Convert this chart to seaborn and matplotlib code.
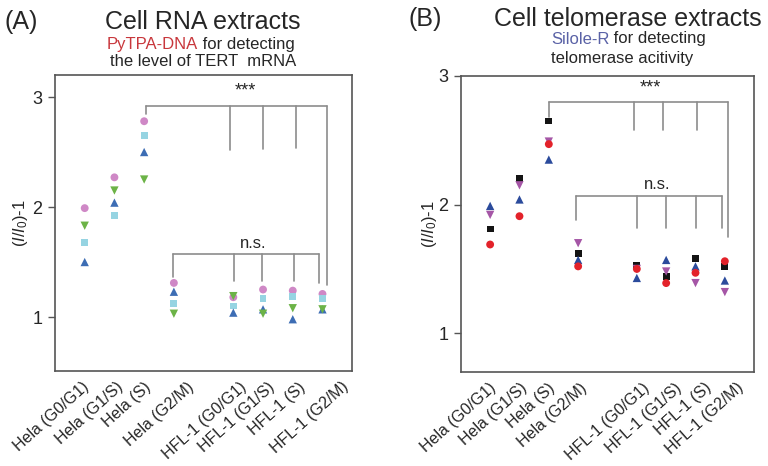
import numpy as np
import pandas as pd
import seaborn as sns
from matplotlib import pyplot as plt

groups = ["Hela (G0/G1)", "Hela (G1/S)", "Hela (S)", "Hela (G2/M)",
          "HFL-1 (G0/G1)", "HFL-1 (G1/S)", "HFL-1 (S)", "HFL-1 (G2/M)"]
positions = [0, 1, 2, 3, 5, 6, 7, 8]

# panel A: PyTPA-DNA, cell RNA extracts
rna_circle = [1.99, 2.27, 2.78, 1.31, 1.18, 1.25, 1.24, 1.21]
rna_square = [1.68, 1.92, 2.65, 1.12, 1.10, 1.17, 1.19, 1.17]
rna_up = [1.50, 2.04, 2.50, 1.23, 1.04, 1.07, 0.98, 1.07]
rna_down = [1.83, 2.15, 2.25, 1.03, 1.19, 1.03, 1.08, 1.07]

# panel B: Silole-R, cell telomerase extracts
tel_square = [1.81, 2.20, 2.65, 1.62, 1.53, 1.44, 1.58, 1.52]
tel_down = [1.92, 2.15, 2.49, 1.70, 1.50, 1.48, 1.39, 1.32]
tel_up = [1.99, 2.04, 2.35, 1.57, 1.43, 1.57, 1.52, 1.41]
tel_circle = [1.69, 1.91, 2.47, 1.52, 1.50, 1.39, 1.47, 1.56]

label_x_a = [-0.1, 1.05, 2.0, 3.45, 5.2, 6.15, 7.2, 8.65]
label_x_b = [-0.05, 1.0, 1.95, 3.05, 5.2, 6.3, 7.3, 8.4]


def makeFrame(series):
    rows = []
    for name, vals in series.items():
        for p, v in zip(positions, vals):
            rows.append({'pos': p, 'val': v, 'series': name})
    return pd.DataFrame(rows)


def drawBracket(ax, y, drops, color='#8c8c8c'):
    xs = [d[0] for d in drops]
    ax.plot([min(xs), max(xs)], [y, y], color=color, lw=1.2, zorder=1)
    for x, y_end in drops:
        ax.plot([x, x], [y, y_end], color=color, lw=1.2, zorder=1)


def drawPanel(ax, df, palette, markers, sizes, ylim, label_x):
    sns.scatterplot(data=df, x='pos', y='val', hue='series', style='series',
                    size='series', palette=palette, markers=markers, sizes=sizes,
                    linewidth=0, legend=False, ax=ax, zorder=3)
    ax.set_xlim(-1, 9)
    ax.set_ylim(*ylim)
    ax.set_yticks([1, 2, 3])
    ax.set_xticks(label_x)
    ax.set_xticklabels(groups, rotation=42, ha='right', rotation_mode='anchor',
                       fontsize=11.5)
    ax.tick_params(axis='x', length=0, pad=6)
    ax.tick_params(axis='y', left=True, length=5, width=1, labelsize=13,
                   color='#555555', pad=4)
    ax.set_xlabel('')
    ax.set_ylabel(r'($I$/$I_0$)-1', fontsize=12)
    for s in ax.spines.values():
        s.set_color('#555555')
        s.set_linewidth(1.2)


sns.set_style("white")
plt.rcParams['font.family'] = ['Liberation Sans', 'DejaVu Sans']
plt.rcParams['mathtext.fontset'] = 'custom'
plt.rcParams['mathtext.rm'] = 'Liberation Sans'
plt.rcParams['mathtext.it'] = 'Liberation Sans:italic'

fig = plt.figure(figsize=(7.68, 4.66), dpi=100)
ax_a = fig.add_axes([0.0716, 0.204, 0.387, 0.635])
ax_b = fig.add_axes([0.600, 0.202, 0.382, 0.635])

df_a = makeFrame({'circle': rna_circle, 'square': rna_square,
                  'up': rna_up, 'down': rna_down})
drawPanel(ax_a, df_a,
          {'circle': '#cf88c6', 'square': '#96d4e2', 'up': '#3d6db4', 'down': '#6cb347'},
          {'circle': 'o', 'square': 's', 'up': '^', 'down': 'v'},
          {'circle': 32, 'square': 24, 'up': 36, 'down': 36},
          (0.51, 3.2), label_x_a)
drawBracket(ax_a, 2.92, [(2.05, 2.85), (4.9, 2.52), (6.0, 2.53), (7.1, 2.54), (8.15, 1.29)])
drawBracket(ax_a, 1.57, [(2.97, 1.36), (5.03, 1.33), (5.97, 1.33), (7.03, 1.33), (7.89, 1.31)])
ax_a.text(5.41, 2.98, '***', ha='center', va='bottom', fontsize=13)
ax_a.text(5.67, 1.6, 'n.s.', ha='center', va='bottom', fontsize=12)
ax_a.yaxis.set_label_coords(-0.085, 0.5)

df_b = makeFrame({'square': tel_square, 'down': tel_down,
                  'up': tel_up, 'circle': tel_circle})
drawPanel(ax_b, df_b,
          {'square': '#141414', 'down': '#a556a6', 'up': '#2b4b9c', 'circle': '#e3222a'},
          {'circle': 'o', 'square': 's', 'up': '^', 'down': 'v'},
          {'circle': 32, 'square': 24, 'up': 36, 'down': 36},
          (0.7, 3.0), label_x_b)
drawBracket(ax_b, 2.80, [(2.0, 2.68), (4.89, 2.58), (5.89, 2.58), (7.06, 2.58), (8.11, 1.75)])
drawBracket(ax_b, 2.07, [(2.92, 1.88), (4.99, 1.82), (5.98, 1.82), (7.03, 1.82), (7.92, 1.82)])
ax_b.text(5.46, 2.84, '***', ha='center', va='bottom', fontsize=13)
ax_b.text(5.7, 2.10, 'n.s.', ha='center', va='bottom', fontsize=12)
ax_b.yaxis.set_label_coords(-0.075, 0.5)

# titles
fig.text(4 / 768, 1 - 22 / 466, '(A)', fontsize=18, va='center')
fig.text(203 / 768, 1 - 22 / 466, 'Cell RNA extracts', fontsize=18, va='center', ha='center')
fig.text(408 / 768, 1 - 19 / 466, '(B)', fontsize=18, va='center')
fig.text(494 / 768, 1 - 19 / 466, 'Cell telomerase extracts', fontsize=18, va='center')

t1 = fig.text(107 / 768, 1 - 44 / 466, 'PyTPA-DNA', fontsize=12, color='#c8373c', va='center')
ax_a.annotate(' for detecting', xy=(1, 0.5), xycoords=t1, va='center', fontsize=12)
fig.text(203 / 768, 1 - 62 / 466, 'the level of TERT  mRNA', fontsize=12, ha='center', va='center')

t2 = fig.text(551 / 768, 1 - 39 / 466, 'Silole-R', fontsize=12, color='#5a62a6', va='center')
ax_b.annotate(' for detecting', xy=(1, 0.5), xycoords=t2, va='center', fontsize=12)
fig.text(551 / 768, 1 - 59 / 466, 'telomerase acitivity', fontsize=12, va='center')

fig.savefig('out.png', dpi=100)
